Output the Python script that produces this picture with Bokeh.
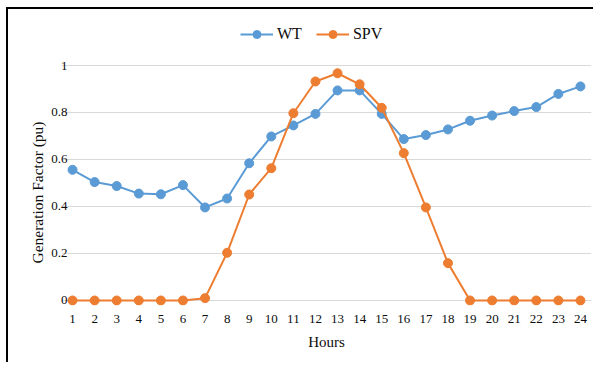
from bokeh.plotting import figure
from bokeh.models import Legend, LegendItem, FixedTicker, Range1d, Title
from bokeh.embed import file_html
from bokeh.resources import INLINE

hours = list(range(1, 25))
wt = [0.556, 0.504, 0.487, 0.455, 0.452, 0.491, 0.396, 0.434, 0.584, 0.698, 0.745, 0.794,
      0.894, 0.894, 0.794, 0.687, 0.704, 0.728, 0.765, 0.787, 0.806, 0.823, 0.879, 0.911]
spv = [0, 0, 0, 0, 0, 0, 0.01, 0.203, 0.451, 0.563, 0.797, 0.932,
       0.967, 0.92, 0.82, 0.627, 0.396, 0.159, 0, 0, 0, 0, 0, 0]
y_ticks = [0, 0.2, 0.4, 0.6, 0.8, 1]
y_tick_labels = ["0", "0.2", "0.4", "0.6", "0.8", "1"]
series_names = ["WT", "SPV"]
x_title = "Hours"
y_title = "Generation Factor (pu)"

BLUE = "#5B9BD5"
ORANGE = "#ED7D31"
FONT = "Liberation Serif"
TXT = "#0d0d0d"

p = figure(width=587, height=355, output_backend="svg", toolbar_location=None,
           x_range=Range1d(0.5, 24.5), y_range=Range1d(-0.0213, 1.1915),
           min_border_left=53, min_border_right=4, min_border_top=11, min_border_bottom=59)
p.styles = {"border-top": "2px solid #000", "border-left": "2px solid #000",
            "margin-top": "7px", "margin-left": "6px"}
p.outline_line_color = None
p.background_fill_color = "white"
p.border_fill_color = "white"

r1 = p.line(hours, wt, line_color=BLUE, line_width=2)
s1 = p.scatter(hours, wt, size=9, fill_color=BLUE, line_color=BLUE)
r2 = p.line(hours, spv, line_color=ORANGE, line_width=2)
s2 = p.scatter(hours, spv, size=9, fill_color=ORANGE, line_color=ORANGE)

p.xgrid.grid_line_color = None
p.ygrid.grid_line_color = "#D9D9D9"
p.ygrid.grid_line_width = 1

p.xaxis.ticker = FixedTicker(ticks=hours)
p.yaxis.ticker = FixedTicker(ticks=y_ticks)
p.yaxis.major_label_overrides = dict(zip(y_ticks, y_tick_labels))

for ax in (p.xaxis, p.yaxis):
    ax.axis_line_color = None
    ax.major_tick_line_color = None
    ax.minor_tick_line_color = None
    ax.major_label_text_font = FONT
    ax.major_label_text_font_size = "13px"
    ax.major_label_text_color = TXT
    ax.axis_label_text_font = FONT
    ax.axis_label_text_font_size = "15px"
    ax.axis_label_text_font_style = "normal"
    ax.axis_label_text_color = TXT

p.xaxis.major_label_standoff = 3
p.yaxis.major_label_standoff = -12
p.xaxis.axis_label = x_title
p.xaxis.axis_label_standoff = 8

ytitle = Title(text=y_title, align="left", offset=42, standoff=6,
               text_font=FONT, text_font_size="15.5px", text_font_style="normal",
               text_color=TXT)
p.add_layout(ytitle, "left")

legend = Legend(items=[LegendItem(label=series_names[0], renderers=[r1, s1]),
                       LegendItem(label=series_names[1], renderers=[r2, s2])],
                orientation="horizontal", location=(179, 261),
                label_text_font=FONT, label_text_font_size="16px", label_text_color=TXT,
                glyph_width=33, glyph_height=20, label_standoff=4, spacing=14,
                padding=0, margin=0, border_line_color=None, background_fill_alpha=0)
p.add_layout(legend, "center")

open("out.html", "w").write(file_html(p, INLINE))
